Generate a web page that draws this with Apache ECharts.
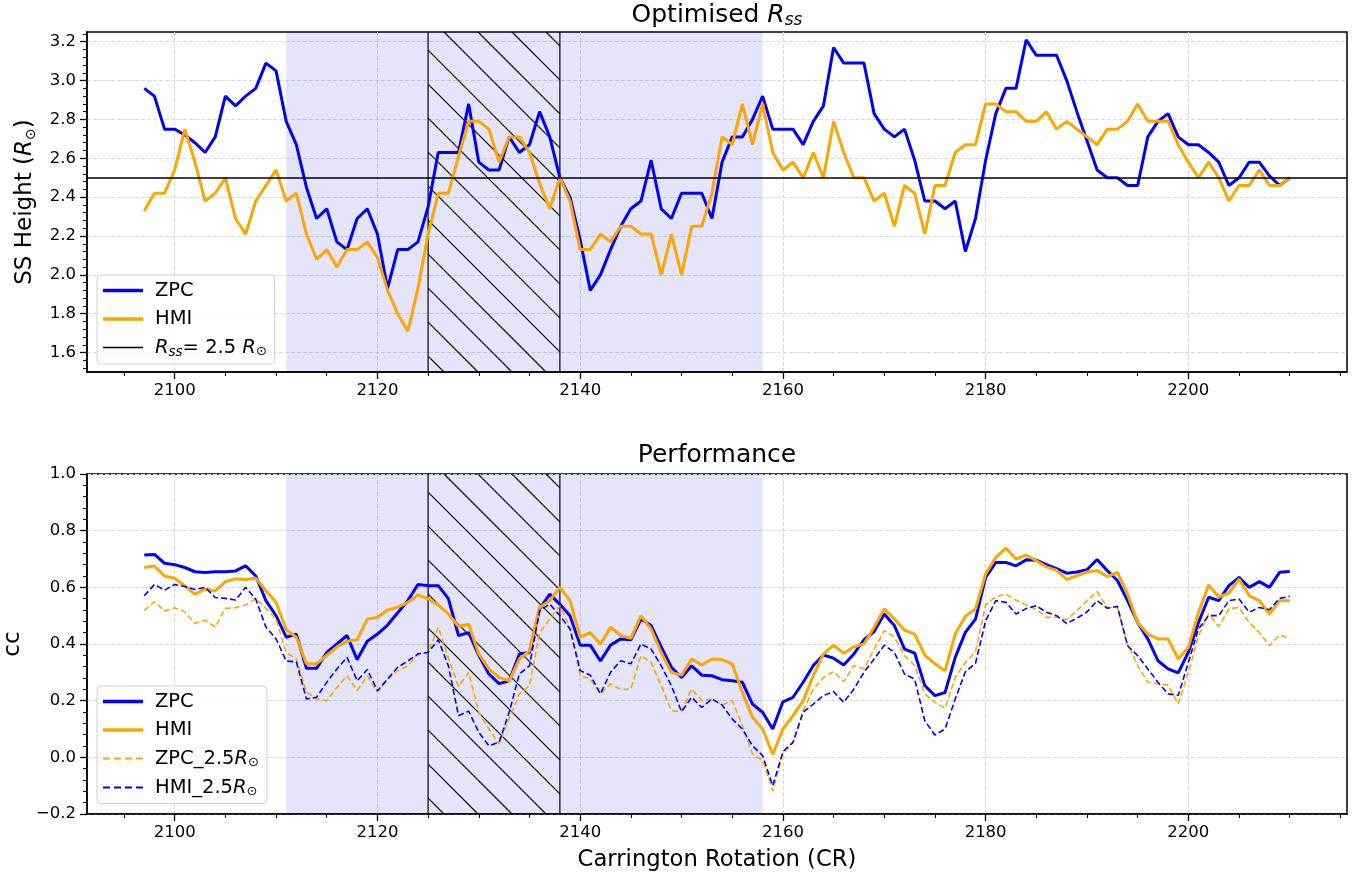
<!DOCTYPE html>
<html>
<head>
<meta charset="utf-8">
<script src="https://cdn.jsdelivr.net/npm/echarts@6/dist/echarts.min.js"></script>
<style>
html,body{margin:0;padding:0;background:#fff;}
#chart{width:1364px;height:878px;}
</style>
</head>
<body>
<div id="chart"></div>
<script>
// ---------- DATA ----------
const crStart = 2097, crEnd = 2210;
const CR = [];
for (let c = crStart; c <= crEnd; c++) CR.push(c);

// Optimised source-surface height (R_sun)
const rssZPC = [2.96,2.92,2.75,2.75,2.72,2.68,2.63,2.71,2.92,2.87,2.92,2.96,3.09,3.05,2.79,2.67,2.45,2.29,2.34,2.17,
2.13,2.29,2.34,2.21,1.93,2.13,2.13,2.17,2.35,2.63,2.63,2.63,2.88,2.58,2.54,2.54,2.71,2.63,2.67,2.84,
2.71,2.50,2.40,2.18,1.92,2.00,2.13,2.25,2.34,2.38,2.59,2.34,2.29,2.42,2.42,2.42,2.29,2.58,2.71,2.71,
2.80,2.92,2.75,2.75,2.75,2.67,2.79,2.87,3.17,3.09,3.09,3.09,2.83,2.75,2.71,2.75,2.59,2.38,2.38,2.34,
2.38,2.12,2.29,2.59,2.83,2.96,2.96,3.21,3.13,3.13,3.13,3.00,2.84,2.69,2.54,2.50,2.50,2.46,2.46,2.71,
2.79,2.83,2.71,2.67,2.67,2.63,2.58,2.46,2.50,2.58,2.58,2.51,2.46,2.50];
const rssHMI = [2.33,2.42,2.42,2.54,2.75,2.58,2.38,2.42,2.50,2.29,2.21,2.38,2.46,2.54,2.38,2.42,2.21,2.08,2.13,2.04,
2.13,2.13,2.17,2.09,1.92,1.80,1.71,1.93,2.21,2.42,2.42,2.61,2.79,2.79,2.75,2.58,2.71,2.71,2.63,2.47,
2.34,2.50,2.38,2.13,2.13,2.21,2.17,2.25,2.25,2.21,2.21,2.00,2.21,2.00,2.25,2.25,2.42,2.71,2.67,2.88,
2.67,2.88,2.63,2.54,2.58,2.50,2.63,2.50,2.79,2.63,2.50,2.50,2.38,2.42,2.25,2.46,2.42,2.21,2.46,2.46,
2.63,2.67,2.67,2.88,2.88,2.84,2.84,2.79,2.79,2.84,2.75,2.79,2.75,2.71,2.67,2.75,2.75,2.79,2.88,2.79,
2.79,2.79,2.67,2.58,2.50,2.58,2.50,2.38,2.46,2.46,2.54,2.46,2.46,2.50];
const rssRef = 2.5;

// Performance (CC)
const ccZPC = [0.714,0.716,0.685,0.68,0.67,0.655,0.652,0.655,0.655,0.658,0.676,0.64,0.553,0.50,0.424,0.435,0.314,0.314,0.37,0.40,
0.43,0.345,0.41,0.435,0.467,0.51,0.553,0.61,0.606,0.606,0.56,0.43,0.44,0.36,0.294,0.26,0.27,0.365,0.37,0.524,
0.576,0.54,0.50,0.396,0.396,0.34,0.396,0.418,0.415,0.488,0.465,0.39,0.318,0.282,0.323,0.29,0.288,0.274,0.27,0.265,
0.188,0.159,0.10,0.196,0.212,0.265,0.324,0.361,0.35,0.326,0.365,0.415,0.444,0.506,0.465,0.382,0.368,0.253,0.218,0.229,
0.353,0.441,0.488,0.635,0.688,0.688,0.676,0.697,0.696,0.68,0.666,0.65,0.654,0.662,0.698,0.659,0.624,0.553,0.476,0.418,
0.341,0.312,0.298,0.371,0.476,0.565,0.553,0.606,0.635,0.60,0.62,0.60,0.653,0.656];
const ccHMI = [0.67,0.675,0.64,0.632,0.605,0.575,0.594,0.587,0.62,0.63,0.628,0.632,0.588,0.547,0.45,0.424,0.33,0.33,0.36,0.39,
0.41,0.415,0.488,0.494,0.52,0.53,0.547,0.573,0.56,0.538,0.506,0.462,0.47,0.365,0.312,0.282,0.27,0.347,0.376,0.53,
0.553,0.60,0.553,0.424,0.44,0.40,0.459,0.43,0.42,0.50,0.453,0.37,0.30,0.29,0.347,0.326,0.347,0.345,0.33,0.23,
0.141,0.10,0.01,0.10,0.147,0.20,0.288,0.365,0.396,0.367,0.39,0.40,0.459,0.524,0.488,0.449,0.435,0.361,0.33,0.306,
0.435,0.498,0.524,0.647,0.706,0.738,0.70,0.714,0.694,0.672,0.66,0.628,0.641,0.654,0.659,0.638,0.653,0.576,0.476,0.435,
0.418,0.418,0.347,0.388,0.512,0.608,0.565,0.58,0.629,0.571,0.553,0.506,0.553,0.553];
const ccZPC25 = [0.518,0.55,0.516,0.528,0.513,0.473,0.484,0.46,0.526,0.528,0.538,0.56,0.526,0.488,0.37,0.347,0.23,0.206,0.20,0.247,
0.288,0.235,0.288,0.23,0.276,0.306,0.323,0.365,0.37,0.46,0.35,0.25,0.30,0.159,0.10,0.047,0.135,0.224,0.253,0.44,
0.488,0.535,0.459,0.288,0.276,0.224,0.259,0.239,0.241,0.359,0.335,0.253,0.165,0.161,0.241,0.20,0.206,0.185,0.20,0.112,
0.012,-0.012,-0.118,0.01,0.053,0.165,0.241,0.282,0.302,0.267,0.324,0.312,0.382,0.447,0.424,0.359,0.324,0.224,0.194,0.173,
0.282,0.335,0.373,0.538,0.567,0.576,0.555,0.538,0.522,0.494,0.495,0.485,0.518,0.553,0.585,0.529,0.529,0.40,0.324,0.265,
0.259,0.255,0.188,0.30,0.429,0.506,0.462,0.524,0.529,0.476,0.441,0.394,0.432,0.42];
const ccHMI25 = [0.57,0.61,0.59,0.61,0.603,0.592,0.60,0.564,0.561,0.555,0.60,0.558,0.46,0.418,0.34,0.337,0.206,0.212,0.265,0.312,
0.353,0.27,0.31,0.235,0.276,0.318,0.34,0.365,0.37,0.415,0.323,0.147,0.163,0.088,0.041,0.053,0.159,0.294,0.323,0.518,
0.541,0.50,0.453,0.306,0.29,0.224,0.30,0.341,0.33,0.40,0.382,0.323,0.253,0.161,0.212,0.176,0.206,0.185,0.135,0.10,
0.041,0.006,-0.10,0.02,0.053,0.159,0.188,0.218,0.232,0.194,0.241,0.30,0.347,0.396,0.37,0.294,0.276,0.129,0.079,0.10,
0.206,0.302,0.332,0.482,0.553,0.547,0.506,0.525,0.535,0.512,0.50,0.472,0.491,0.513,0.553,0.526,0.533,0.394,0.359,0.312,
0.265,0.224,0.218,0.335,0.453,0.50,0.50,0.553,0.559,0.512,0.529,0.521,0.561,0.568];

// Highlighted CR spans
const shadeSpan = [2111, 2158];
const hatchSpan = [2125, 2138];

// Axis ranges and ticks
const xRange = [2091.35, 2215.65];
const xMajor = [2100, 2120, 2140, 2160, 2180, 2200];
const xMinor = [2095, 2105, 2110, 2115, 2125, 2130, 2135, 2145, 2150, 2155, 2165, 2170, 2175, 2185, 2190, 2195, 2205, 2210, 2215];
const yTopRange = [1.5, 3.25];
const yTopMajor = [1.6, 1.8, 2.0, 2.2, 2.4, 2.6, 2.8, 3.0, 3.2];
const yBotRange = [-0.2, 1.0];
const yBotMajor = [-0.2, 0.0, 0.2, 0.4, 0.6, 0.8, 1.0];

// ---------- HELPERS ----------
function minorBetween(range, step, majors) {
  const out = [];
  const n0 = Math.ceil(range[0] / step - 1e-9), n1 = Math.floor(range[1] / step + 1e-9);
  for (let n = n0; n <= n1; n++) {
    const v = +(n * step).toFixed(6);
    if (!majors.some(m => Math.abs(m - v) < 1e-6)) out.push(v);
  }
  return out;
}
const yTopMinor = minorBetween(yTopRange, 0.04, yTopMajor);
const yBotMinor = minorBetween(yBotRange, 0.04, yBotMajor);
const pairs = (ys) => CR.map((c, i) => [c, ys[i]]);

const FONT = 'DejaVu Sans';
const fmt1 = v => (v < 0 ? '\u2212' + Math.abs(v).toFixed(1) : v.toFixed(1));

function mainX(grid, name) {
  return {
    type: 'value', gridIndex: grid, min: xRange[0], max: xRange[1], splitNumber: 6, position: 'bottom',
    axisLine: { show: true, onZero: false, lineStyle: { color: '#000', width: 1.5 } },
    axisTick: { show: true, length: 7, lineStyle: { color: '#000', width: 1.3 }, customValues: xMajor },
    axisLabel: { customValues: xMajor, fontSize: 16.5, color: '#000', fontFamily: FONT, margin: 10, formatter: v => String(v) },
    splitLine: { show: true, lineStyle: { type: [4, 2], color: '#d9d9d9', width: 1 } },
    name: name || '', nameLocation: 'middle', nameGap: 35,
    nameTextStyle: { fontSize: 22.7, color: '#000', fontFamily: FONT, verticalAlign: 'top' }
  };
}
function minorX(grid) {
  return {
    type: 'value', gridIndex: grid, min: xRange[0], max: xRange[1], position: 'bottom',
    axisLine: { show: false, onZero: false }, axisLabel: { show: false }, splitLine: { show: false },
    axisTick: { show: true, length: 4, lineStyle: { color: '#000', width: 1 }, customValues: xMinor }
  };
}
function mainY(grid, range, majors, name, gap) {
  return {
    type: 'value', gridIndex: grid, min: range[0], max: range[1], splitNumber: 8, position: 'left',
    axisLine: { show: true, onZero: false, lineStyle: { color: '#000', width: 1.5 } },
    axisTick: { show: true, length: 7, lineStyle: { color: '#000', width: 1.3 }, customValues: majors },
    axisLabel: { customValues: majors, fontSize: 16.5, color: '#000', fontFamily: FONT, margin: 11, formatter: fmt1 },
    splitLine: { show: true, lineStyle: { type: [4, 2], color: '#d9d9d9', width: 1 } },
    name: name, nameLocation: 'middle', nameGap: gap, nameRotate: 90,
    nameTextStyle: { fontSize: 23, color: '#000', fontFamily: FONT, rich: {
      i: { fontStyle: 'italic', fontFamily: FONT, fontSize: 23 },
      sun: { fontFamily: FONT, fontSize: 14, padding: [11, 0, 0, 0] } } }
  };
}
function minorY(grid, range, minors) {
  return {
    type: 'value', gridIndex: grid, min: range[0], max: range[1], position: 'left',
    axisLine: { show: false, onZero: false }, axisLabel: { show: false }, splitLine: { show: false },
    axisTick: { show: true, length: 4, lineStyle: { color: '#000', width: 1 }, customValues: minors }
  };
}

function renderSpans(params, api) {
  const cs = params.coordSys;
  const x0 = api.coord([api.value(0), 0])[0];
  const x1 = api.coord([api.value(1), 0])[0];
  const kind = api.value(2);
  const top = cs.y, bot = cs.y + cs.height;
  if (kind === 0) {
    return { type: 'rect', shape: { x: x0, y: top, width: x1 - x0, height: cs.height },
             style: { fill: 'rgba(0,0,205,0.105)' } };
  }
  const children = [];
  const step = 34, phase = 30;
  const cMin = top - x1, cMax = bot - x0;
  let c = Math.ceil((cMin - phase) / step) * step + phase;
  for (; c <= cMax; c += step) {
    const xs = Math.max(x0, top - c), xe = Math.min(x1, bot - c);
    if (xe > xs) children.push({ type: 'line', shape: { x1: xs, y1: xs + c, x2: xe, y2: xe + c },
      style: { stroke: '#000', lineWidth: 1.15 } });
  }
  children.push({ type: 'line', shape: { x1: x0, y1: top, x2: x0, y2: bot }, style: { stroke: '#000', lineWidth: 1.2 } });
  children.push({ type: 'line', shape: { x1: x1, y1: top, x2: x1, y2: bot }, style: { stroke: '#000', lineWidth: 1.2 } });
  return { type: 'group', children };
}
const spanData = [[shadeSpan[0], shadeSpan[1], 0], [hatchSpan[0], hatchSpan[1], 1]];

function lineSeries(name, xi, yi, ys, color, width, dashed, z) {
  return {
    type: 'line', name, xAxisIndex: xi, yAxisIndex: yi, data: pairs(ys),
    symbol: 'none', showSymbol: false, smooth: false, z: z,
    lineStyle: { color, width, type: dashed ? [6, 3] : 'solid' },
    itemStyle: { color }, emphasis: { disabled: true }
  };
}

const ICON_THICK = 'path://M0,0H40V3.4H0Z';
const ICON_THIN = 'path://M0,0H40V1.6H0Z';
const ICON_DASH = 'path://M0,0H7V1.8H0Z M11,0H18V1.8H11Z M22,0H29V1.8H22Z M33,0H40V1.8H33Z';

const chart = echarts.init(document.getElementById('chart'), null, { renderer: 'canvas' });
const legendBase = {
  orient: 'vertical', left: 97, itemWidth: 40, itemHeight: 14, itemGap: 7.5,
  backgroundColor: 'rgba(255,255,255,0.85)', borderColor: '#d0d0d0', borderWidth: 1, borderRadius: 4,
  padding: [5, 8, 5, 6], selectedMode: false,
  itemStyle: { borderWidth: 0 },
  textStyle: { fontSize: 19.5, color: '#000', fontFamily: FONT, lineHeight: 21, padding: [0, 0, 0, 7], rich: {
    i: { fontStyle: 'italic', fontFamily: FONT, fontSize: 19.5 },
    sub: { fontStyle: 'italic', fontFamily: FONT, fontSize: 13.5, padding: [9, 0, 0, 0] },
    sun: { fontFamily: FONT, fontSize: 13, padding: [9, 0, 0, 0] },
    t: { fontFamily: FONT, fontSize: 19.5 } } }
};

const gridBase = { width: 1260, height: 340, left: 87, show: true, borderColor: '#000', borderWidth: 1.5,
  backgroundColor: 'transparent', containLabel: false, outerBoundsMode: 'none' };

const option = {
  animation: false,
  backgroundColor: '#fff',
  title: [
    { text: 'Optimised {i|R}{sub|ss}', left: 717, top: 1, textAlign: 'center', padding: 0,
      textStyle: { fontSize: 25, fontWeight: 'normal', color: '#000', fontFamily: FONT,
        rich: { i: { fontStyle: 'italic', fontSize: 25, fontFamily: FONT },
                sub: { fontStyle: 'italic', fontSize: 17, fontFamily: FONT, padding: [11, 0, 0, 0] } } } },
    { text: 'Performance', left: 717, top: 443, textAlign: 'center', padding: 0,
      textStyle: { fontSize: 25, fontWeight: 'normal', color: '#000', fontFamily: FONT } }
  ],
  grid: [
    Object.assign({}, gridBase, { top: 32 }),
    Object.assign({}, gridBase, { top: 474 })
  ],
  xAxis: [ mainX(0, ''), mainX(1, 'Carrington Rotation (CR)'), minorX(0), minorX(1) ],
  yAxis: [
    mainY(0, yTopRange, yTopMajor, 'SS Height ({i|R}{sun|\u2299})', 49),
    mainY(1, yBotRange, yBotMajor, 'cc', 62),
    minorY(0, yTopRange, yTopMinor),
    minorY(1, yBotRange, yBotMinor)
  ],
  legend: [
    Object.assign({}, legendBase, { top: 275, data: [
        { name: 'ZPC', icon: ICON_THICK }, { name: 'HMI', icon: ICON_THICK }, { name: 'Rss', icon: ICON_THIN }],
      formatter: n => n === 'Rss' ? '{i|R}{sub|ss}{t|= 2.5 }{i|R}{sun|\u2299}' : n }),
    Object.assign({}, legendBase, { top: 686, data: [
        { name: 'ZPC', icon: ICON_THICK }, { name: 'HMI', icon: ICON_THICK },
        { name: 'ZPC_2.5', icon: ICON_DASH }, { name: 'HMI_2.5', icon: ICON_DASH }],
      formatter: n => n.indexOf('_2.5') > 0 ? n + '{i|R}{sun|\u2299}' : n })
  ],
  series: [
    { type: 'custom', name: 'spansTop', xAxisIndex: 0, yAxisIndex: 0, data: spanData, renderItem: renderSpans,
      encode: { x: [0, 1] }, z: 1, silent: true },
    { type: 'custom', name: 'spansBot', xAxisIndex: 1, yAxisIndex: 1, data: spanData, renderItem: renderSpans,
      encode: { x: [0, 1] }, z: 1, silent: true },
    lineSeries('ZPC', 0, 0, rssZPC, '#0000ff', 3, false, 3),
    lineSeries('HMI', 0, 0, rssHMI, '#ffa500', 3, false, 4),
    { type: 'line', name: 'Rss', xAxisIndex: 0, yAxisIndex: 0, data: [], symbol: 'none', z: 5,
      lineStyle: { color: '#000', width: 1.5 }, itemStyle: { color: '#000' },
      markLine: { silent: true, symbol: 'none', label: { show: false },
        lineStyle: { color: '#000', width: 1.6, type: 'solid' }, data: [{ yAxis: rssRef }] } },
    lineSeries('ZPC', 1, 1, ccZPC, '#0000ff', 3, false, 3),
    lineSeries('HMI', 1, 1, ccHMI, '#ffa500', 3, false, 4),
    lineSeries('ZPC_2.5', 1, 1, ccZPC25, '#ffa500', 1.6, true, 5),
    lineSeries('HMI_2.5', 1, 1, ccHMI25, '#0000ff', 1.6, true, 6)
  ]
};
chart.setOption(option);
</script>
</body>
</html>
